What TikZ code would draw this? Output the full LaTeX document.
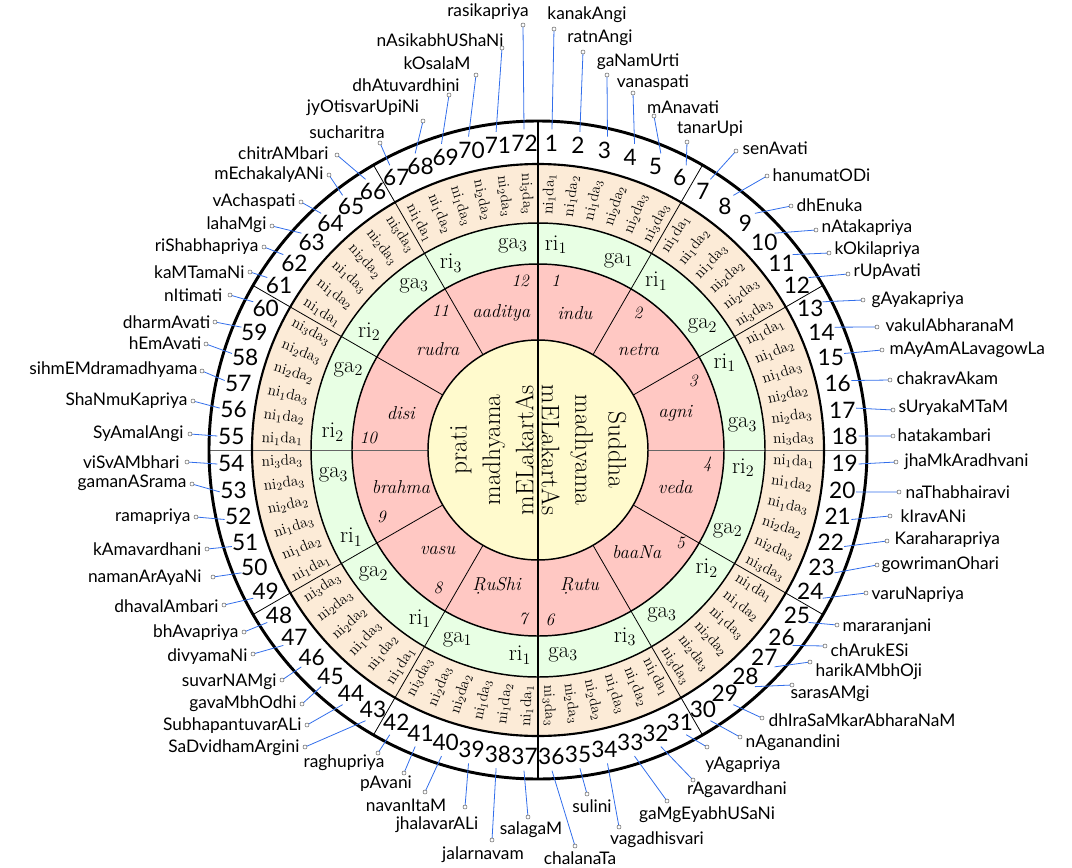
\documentclass[tikz,border=0pt]{standalone}
\usepackage{fontspec}
\newfontfamily\namefont{Lato}
\begin{document}
\definecolor{cyel}{RGB}{255,250,205}
\definecolor{cred}{RGB}{255,200,195}
\definecolor{cgrn}{RGB}{232,255,228}
\definecolor{corg}{RGB}{252,235,215}
\definecolor{cblue}{RGB}{50,110,235}
\tikzset{
 conn/.style={cblue, line width=0.6pt},
 dotmark/.style={draw=gray!80!black, fill=white, line width=0.4pt},
 rname/.style={font=\namefont\fontsize{13}{15}\selectfont, inner sep=1pt},
 rnum/.style={font=\namefont\fontsize{17}{19}\selectfont, inner sep=0pt},
 nida/.style={font=\fontsize{11.5}{13}\selectfont, inner sep=0pt},
 riga/.style={font=\fontsize{17}{19}\selectfont, inner sep=0pt},
 cname/.style={font=\itshape\fontsize{14}{16}\selectfont, inner sep=0pt},
 cnum/.style={font=\itshape\fontsize{13}{15}\selectfont, inner sep=0pt},
 ctext/.style={font=\fontsize{19}{25}\selectfont, align=center, inner sep=0pt},
 thickc/.style={line width=1.6pt},
 midc/.style={line width=1.1pt},
}
\begin{tikzpicture}[x=0.75pt,y=-0.75pt]
\useasboundingbox (0,0) rectangle (1072,868);
\coordinate (C) at (538,450);
% rings
\fill[white] (C) circle[radius=246.75pt];
\fill[corg] (C) circle[radius=214.5pt];
\fill[cgrn] (C) circle[radius=170.25pt];
\fill[cred] (C) circle[radius=139.5pt];
% chakra lines
\foreach \a in {30,60,120,150,210,240,300,330} {
  \pgfmathsetmacro\xa{538+110*cos(\a)}\pgfmathsetmacro\ya{450-110*sin(\a)}
  \pgfmathsetmacro\xb{538+329*cos(\a)}\pgfmathsetmacro\yb{450-329*sin(\a)}
  \draw[line width=0.6pt] (\xa,\ya) -- (\xb,\yb);
}
\foreach \a in {0,180} {
  \pgfmathsetmacro\xa{538+110*cos(\a)}\pgfmathsetmacro\ya{450-110*sin(\a)}
  \pgfmathsetmacro\xb{538+329*cos(\a)}\pgfmathsetmacro\yb{450-329*sin(\a)}
  \draw[line width=0.6pt, black!60] (\xa,\ya) -- (\xb,\yb);
}
\fill[cyel] (C) circle[radius=82.5pt];
\draw[midc] (C) circle[radius=82.5pt];
\draw[midc] (C) circle[radius=139.5pt];
\draw[midc] (C) circle[radius=170.25pt];
\draw[thickc] (C) circle[radius=214.5pt];
\draw[line width=2.2pt] (C) circle[radius=246.75pt];
\coordinate (vt) at (538,121);
\coordinate (vb) at (538,779);
\draw[line width=1.5pt] (vt) -- (vb);
% centre texts
\node[ctext, rotate=90] (pm) at (492,450) {prati\\madhyama\\mELakartAs};
\node[ctext, rotate=-90] (sm) at (584,450) {Suddha\\madhyama\\mELakartAs};
% chakra names
\foreach \c/\nm/\a/\na in {1/indu/75/84,2/netra/45/54,3/agni/15/24,4/veda/-15/-5,5/baaNa/-46/-33,6/\d{R}utu/-73/-86,7/\d{R}uShi/253/265,8/vasu/225/234,9/brahma/195/203,10/disi/165/176,11/rudra/135/125,12/aaditya/105/96} {
  \pgfmathsetmacro\xa{538+142*cos(\a)}\pgfmathsetmacro\ya{450-142*sin(\a)}
  \pgfmathsetmacro\xb{538+170*cos(\na)}\pgfmathsetmacro\yb{450-170*sin(\na)}
  \node[cname] (cn\c) at (\xa,\ya) {\nm};
  \node[cnum] (cc\c) at (\xb,\yb) {\c};
}
% ri ga
\foreach \c/\r/\g in {1/1/1,2/1/2,3/1/3,4/2/2,5/2/3,6/3/3,7/1/1,8/1/2,9/1/3,10/2/2,11/2/3,12/3/3} {
  \pgfmathsetmacro\s{90-30*(\c-1)}
  \pgfmathsetmacro\xa{538+206*cos(\s-5)}\pgfmathsetmacro\ya{450-206*sin(\s-5)}
  \pgfmathsetmacro\xb{538+206*cos(\s-23)}\pgfmathsetmacro\yb{450-206*sin(\s-23)}
  \node[riga] (ri\c) at (\xa,\ya) {ri$_{\r}$};
  \node[riga] (ga\c) at (\xb,\yb) {ga$_{\g}$};
}
% ni da
\foreach \c in {0,...,11} {
  \foreach \n/\dd [count=\i] in {1/1,1/2,1/3,2/2,2/3,3/3} {
    \pgfmathtruncatemacro\k{6*\c+\i}
    \pgfmathsetmacro\a{90-(\k-0.5)*5}
    \pgfmathsetmacro\rot{\c<6 ? \a : \a+180}
    \pgfmathsetmacro\xa{538+256*cos(\a)}\pgfmathsetmacro\ya{450-256*sin(\a)}
    \node[nida, rotate=\rot] (nd\k) at (\xa,\ya) {ni$_{\n}$da$_{\dd}$};
  }
}
% numbers
\foreach \k in {1,...,72} {
  \pgfmathsetmacro\a{90-(\k-0.5)*5}
  \pgfmathsetmacro\xa{538+307*cos(\a)}\pgfmathsetmacro\ya{450-307*sin(\a)}
  \node[rnum] (num\k) at (\xa,\ya) {\k};
}
% raga names
\foreach \k/\nm/\mx/\my/\an/\lx/\ly in {
1/kanakAngi/554/29/center/587/15,
2/ratnAngi/583/52/center/600/38,
3/gaNamUrti/607/75/center/638/62,
4/vanaspati/633/93/center/653/83,
5/mAnavati/654/116/center/683/107,
6/tanarUpi/687/142/center/710/129,
7/senAvati/736/151/west/741/148,
8/hanumatODi/767/176/west/771/175,
9/dhEnuka/791/206/west/795/205,
10/nAtakapriya/816/230/west/820/228,
11/kOkilapriya/829/253/west/833/250,
12/rUpAvati/848/274/west/852/272,
13/gAyakapriya/863/300/west/870/300,
14/vakulAbharanaM/877/327/west/884/325,
15/mAyAmALavagowLa/882/350/west/888/350,
16/chakravAkam/890/380/west/895/378,
17/sUryakaMTaM/893/410/west/897/408,
18/hatakambari/893/436/west/896/435,
19/jhaMkAradhvani/896/462/west/903/462,
20/naThabhairavi/899/492/west/904/492,
21/kIravANi/890/516/west/899/516,
22/Karaharapriya/887/541/west/893/540,
23/gowrimanOhari/877/565/west/880/565,
24/varuNapriya/866/593/west/870/595,
25/mararanjani/837/625/west/841/627,
26/chArukESi/825/646/west/829/650,
27/harikAMbhOji/810/662/west/814/672,
28/sarasAMgi/792/685/west/789/694,
29/dhIraSaMkarAbharaNaM/762/718/west/767/720,
30/nAganandini/740/737/west/744/743,
31/yAgapriya/707/747/center/743/765,
32/rAgavardhani/693/780/center/737/790,
33/gaMgEyabhUSaNi/667/801/center/707/815,
34/vagadhisvari/619/827/center/657/840,
35/sulini/587/794/center/592/806,
36/chalanaTa/575/846/center/580/858,
37/salagaM/528/817/center/531/830,
38/jalarnavam/492/840/center/483/855,
39/jhalavarALi/465/807/center/437/825,
40/navanItaM/425/792/center/406/805,
41/pAvani/404/773/center/386/784,
42/raghupriya/378/753/center/344/763,
43/SaDvidhamArgini/305/747/east/301/748,
44/SubhapantuvarALi/307/725/east/303/726,
45/gavaMbhOdhi/302/704/east/298/704,
46/suvarNAMgi/282/680/east/278/682,
47/divyamaNi/253/654/east/249/657,
48/bhAvapriya/244/632/east/240/633,
49/dhavalAmbari/224/605/east/220/606,
50/namanArAyaNi/213/577/east/203/578,
51/kAmavardhani/207/549/east/203/549,
52/ramapriya/196/517/east/192/517,
53/gamanASrama/192/484/east/188/483,
54/viSvAMbhari/187/462/east/181/462,
55/SyAmalAngi/190/434/east/185/434,
56/ShaNmuKapriya/193/401/east/189/401,
57/sihmEMdramadhyama/202/371/east/199/370,
58/hEmAvati/206/344/east/203/343,
59/dharmAvati/215/322/east/212/322,
60/nItimati/230/295/east/224/295,
61/kaMTamaNi/250/272/east/246/272,
62/riShabhapriya/264/247/east/260/247,
63/lahaMgi/272/226/east/268/225,
64/vAchaspati/301/202/east/297/202,
65/mEchakalyANi/329/175/east/325/175,
66/chitrAMbari/337/155/east/330/153,
67/sucharitra/380/143/center/347/132,
68/jyOtisvarUpiNi/423/121/center/363/108,
69/dhAtuvardhini/449/95/center/406/85,
70/kOsalaM/476/75/center/437/63,
71/nAsikabhUShaNi/502/48/center/440/40,
72/rasikapriya/523/25/center/488/12} {
  \pgfmathsetmacro\a{90-(\k-0.5)*5}
  \pgfmathsetmacro\xa{538+321*cos(\a)}\pgfmathsetmacro\ya{450-321*sin(\a)}
  \coordinate (s\k) at (\xa,\ya);
  \coordinate (m\k) at (\mx,\my);
  \node[rname, anchor=\an] (n\k) at (\lx,\ly) {\nm};
  \draw[conn] (s\k) -- (m\k);
  \draw[dotmark] (m\k) circle[radius=1.5pt];
}
\end{tikzpicture}
\end{document}
